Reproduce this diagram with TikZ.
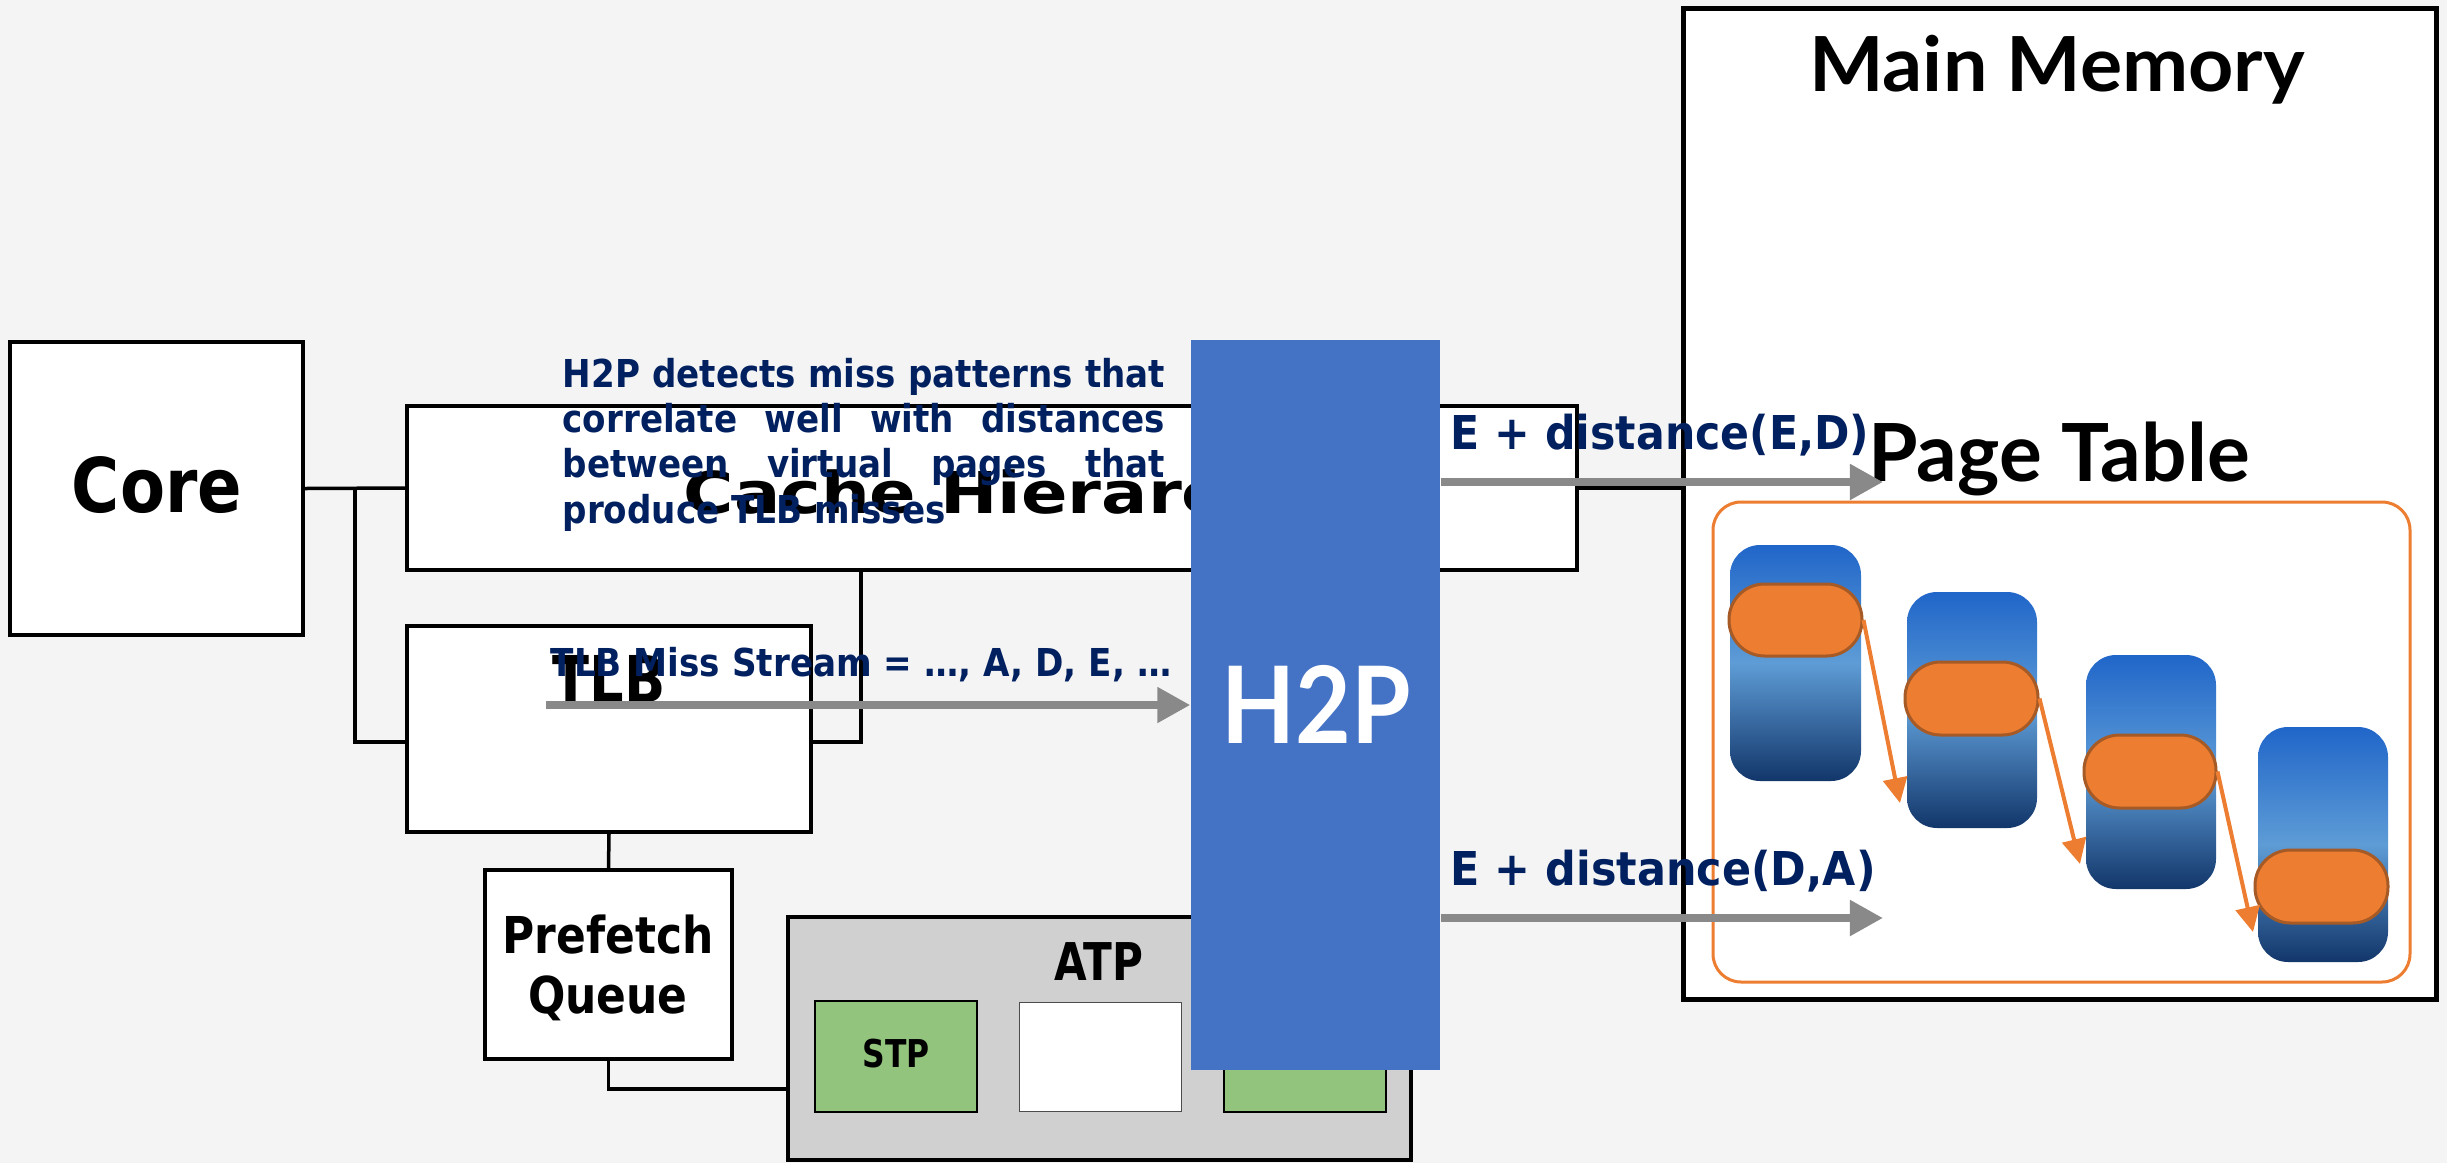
\documentclass[tikz,border=0pt]{standalone}
\usepackage{fontspec}
\usepackage{graphicx}
\usetikzlibrary{arrows.meta,fit}
\newfontfamily\dv{DejaVu Sans}
\newfontfamily\lt{Lato}
\newcommand\hsc[2]{\scalebox{#1}[1]{#2}}
\definecolor{bg}{HTML}{F4F4F4}
\definecolor{navy}{HTML}{002060}
\definecolor{h2pblue}{HTML}{4472C4}
\definecolor{agray}{HTML}{898989}
\definecolor{atpgray}{HTML}{D0D0D0}
\definecolor{stpgreen}{HTML}{93C47D}
\definecolor{orng}{HTML}{ED7D31}
\definecolor{orngdark}{HTML}{A65A26}
\definecolor{pgtop}{HTML}{2066C9}
\definecolor{pgmid}{HTML}{5E9CD6}
\definecolor{pgbot}{HTML}{12366A}
\begin{document}
\begin{tikzpicture}[x=0.01cm,y=-0.01cm,
  box/.style={draw=black, line width=0.04cm, fill=white, inner sep=0pt},
  conn/.style={draw=black, line width=0.035cm},
  gar/.style={draw=agray, line width=0.08cm, -{Triangle[length=0.33cm,width=0.34cm]}},
  oar/.style={draw=orng, line width=0.04cm, -{Triangle[length=0.25cm,width=0.24cm]}},
  page/.style={rounded corners=0.3cm, top color=pgtop, bottom color=pgbot, middle color=pgmid, draw=none, inner sep=0pt},
  pill/.style={rounded corners=0.355cm, fill=orng, draw=orngdark, line width=0.03cm, inner sep=0pt},
  txt/.style={inner sep=0pt},
  bigsans/.style={font=\dv\bfseries\fontsize{#1}{1.2\dimexpr#1pt\relax}\selectfont},
]
\useasboundingbox (0,0) rectangle (2447,1163);
\fill[bg] (0,0) rectangle (2447,1163);

% Main memory
\node[box, line width=0.05cm, fit={(1683,8) (2436,999)}] (mm) {};
\node[txt, anchor=base, font=\lt\bfseries\fontsize{21.6}{26}\selectfont] (mmt) at (2057,91) {\hsc{1.04}{Main Memory}};
\node[txt, anchor=base, font=\lt\bfseries\fontsize{22.8}{27}\selectfont] (ptt) at (2059,481) {Page Table};
\node[draw=orng, line width=0.03cm, rounded corners=0.28cm, fit={(1713,502) (2410,982)}, inner sep=0pt] (pt) {};
\node[page, fit={(1730,545) (1861,781)}] (p1) {};
\node[page, fit={(1907,592) (2037,828)}] (p2) {};
\node[page, fit={(2086,655) (2216,889)}] (p3) {};
\node[page, fit={(2258,727) (2388,962)}] (p4) {};
\node[pill, fit={(1729,584) (1862,656)}] (q1) {};
\node[pill, fit={(1905,662) (2038,735)}] (q2) {};
\node[pill, fit={(2084,735) (2216,808)}] (q3) {};
\node[pill, fit={(2255,850) (2388,923)}] (q4) {};
\coordinate (a1) at (1900,803);
\coordinate (a2) at (2080,864);
\coordinate (a3) at (2253,932);
\draw[oar] (q1.east) -- (a1);
\draw[oar] (q2.east) -- (a2);
\draw[oar] (q3.east) -- (a3);

% left side boxes
\node[box, fit={(10,342) (303,635)}] (core) {};
\node[box, fit={(407,406) (1577,570)}] (cache) {};
\node[box, fit={(407,626) (811,832)}] (tlb) {};
\node[box, fit={(485,870) (732,1059)}] (pq) {};
\node[box, fill=atpgray, fit={(788,917) (1411,1160)}] (atp) {};
\node[box, fill=stpgreen, line width=0.025cm, fit={(815,1001) (977,1112)}] (stp) {};
\node[draw=black!70, line width=0.01cm, fill=white, fit={(1019,1002) (1181,1111)}, inner sep=0pt] (wb) {};
\node[box, fill=stpgreen, line width=0.025cm, fit={(1224,1002) (1386,1112)}] (g3) {};

% box texts
\node[txt, anchor=base, bigsans=21.45] (coret) at (157,512) {\hsc{0.87}{Core}};
\node[txt, anchor=center, font=\dv\bfseries\fontsize{14.45}{17.07}\selectfont] (pqt) at (608,971) {\hsc{0.865}{\begin{tabular}{@{}c@{}}Prefetch\\Queue\end{tabular}}};
\node[txt, anchor=base, bigsans=14.8] (atpt) at (1099,980) {\hsc{0.81}{ATP}};
\node[txt, anchor=base, bigsans=10.9] (stpt) at (896,1067) {\hsc{0.82}{STP}};

% connectors
\coordinate (j1) at (355,488);
\coordinate (j2) at (355,742);
\coordinate (j3) at (861,742);
\coordinate (j4) at (608,1089);
\draw[conn] (core.east) -- (cache.west);
\draw[conn] (j1) -- (j2) -- (j2 -| tlb.west);
\draw[conn] (cache.south -| j3) -- (j3) -- (tlb.east |- j3);
\draw[conn] (tlb.south) -- (pq.north);
\draw[conn] (pq.south) -- (pq.south |- j4) -- (atp.west |- j4);
\draw[conn] (cache.east) -- (mm.west |- cache.east);

% box texts under the navy notes
\node[txt, anchor=base west, bigsans=16.4] (cachet) at (683,513) {\hsc{1.19}{Cache Hierarchy}};
\node[txt, anchor=base, bigsans=18.35] (tlbt) at (609,702) {\hsc{0.84}{TLB}};

% navy texts
\node[txt, anchor=base west, text=navy, font=\dv\bfseries\fontsize{10.93}{12.89}\selectfont] (desc) at (562,523) {\hsc{0.888}{\vbox{\hbox{\makebox[6.78cm][s]{H2P detects miss patterns that}}\hbox{\makebox[6.78cm][s]{correlate well with distances}}\hbox{\makebox[6.78cm][s]{between virtual pages that}}\hbox{produce TLB misses}}}};
\node[txt, anchor=base west, text=navy, font=\dv\bfseries\fontsize{10.93}{13}\selectfont] (tms) at (550,676) {\hsc{0.89}{TLB Miss Stream = …, A, D, E, …}};

% H2P
\node[fill=h2pblue, fit={(1191,340) (1440,1070)}, inner sep=0pt] (h2p) {};
\node[txt, anchor=base, text=white, font=\lt\bfseries\fontsize{30.4}{36}\selectfont] (h2pt) at (1316,743) {\hsc{0.9}{H2P}};

% gray arrows
\coordinate (s1) at (546,705);
\coordinate (e1) at (1883,482);
\coordinate (e2) at (1883,918);
\draw[gar] (s1) -- (s1 -| h2p.west);
\draw[gar] (h2p.east |- e1) -- (e1);
\draw[gar] (h2p.east |- e2) -- (e2);

\node[txt, anchor=base west, text=navy, bigsans=13.26] (l1) at (1450,449) {\hsc{0.915}{E + distance(E,D)}};
\node[txt, anchor=base west, text=navy, bigsans=13.26] (l2) at (1450,885) {\hsc{0.92}{E + distance(D,A)}};
\end{tikzpicture}
\end{document}
